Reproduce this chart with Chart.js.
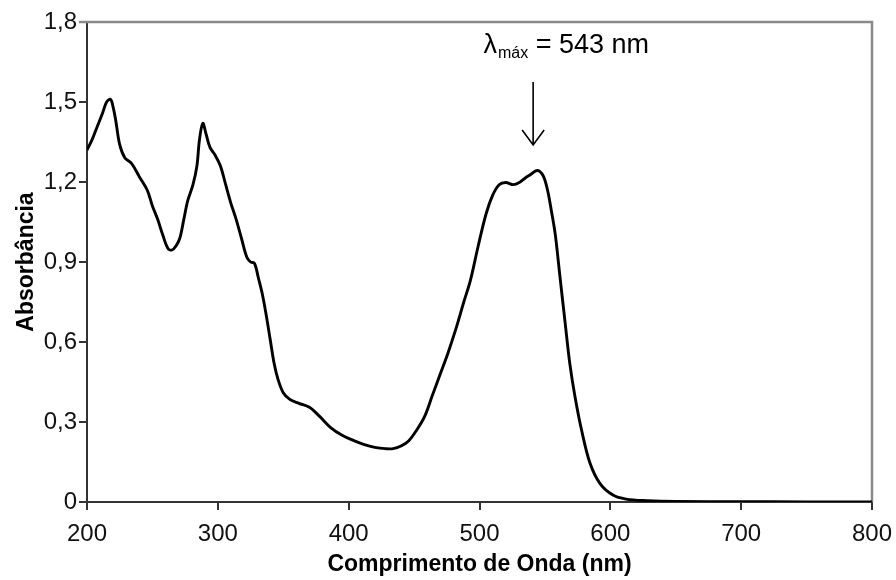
<!DOCTYPE html>
<html>
<head>
<meta charset="utf-8">
<script src="https://cdn.jsdelivr.net/npm/chart.js@4"></script>
<style>
  html, body { margin: 0; padding: 0; background: #fff; }
  canvas { display: block; }
</style>
</head>
<body>
<canvas id="chart" width="896" height="580"></canvas>
<script>
// comprimento de onda (nm)
var wavelength = [
  200, 204, 208, 212, 215, 218, 220, 222, 225, 229, 234, 240, 246, 250, 254, 258, 262, 265, 268, 271,
  274, 277, 281, 284, 286, 288.5, 291, 294, 298, 302, 306, 310, 314, 318, 322, 325, 328, 331, 334, 337,
  340, 343, 346, 350, 355, 362, 370, 378, 386, 395, 404, 412, 420, 428, 434, 440, 446, 452, 458, 464,
  470, 476, 482, 488, 493, 499, 505, 510, 515, 520, 526, 531, 535, 539, 543, 546, 549, 552, 555, 558,
  561.5, 565.5, 569, 573, 578, 584.5, 592, 602, 612, 628, 650, 700, 750, 800
];
// absorbância
var absorbance = [
  1.32, 1.36, 1.41, 1.46, 1.50, 1.51, 1.48, 1.43, 1.34, 1.29, 1.27, 1.22, 1.17, 1.11, 1.06, 1.00, 0.95, 0.945, 0.96, 0.99,
  1.06, 1.13, 1.19, 1.26, 1.36, 1.42, 1.38, 1.33, 1.30, 1.26, 1.19, 1.12, 1.06, 0.99, 0.92, 0.90, 0.895, 0.84, 0.78, 0.70,
  0.61, 0.52, 0.46, 0.41, 0.385, 0.37, 0.355, 0.32, 0.28, 0.25, 0.23, 0.215, 0.205, 0.20, 0.20, 0.21, 0.23, 0.27, 0.32, 0.40,
  0.48, 0.56, 0.65, 0.75, 0.83, 0.96, 1.08, 1.15, 1.19, 1.198, 1.19, 1.20, 1.215, 1.228, 1.242, 1.24, 1.22, 1.17, 1.09, 1.00,
  0.845, 0.67, 0.52, 0.395, 0.27, 0.145, 0.07, 0.026, 0.011, 0.005, 0.002, 0.001, 0.0005, 0
];
var xTicks = [200, 300, 400, 500, 600, 700, 800];
var yTicks = [0, 0.3, 0.6, 0.9, 1.2, 1.5, 1.8];

// anotação do máximo
var lambdaMax = 543;
var noteLabelX = 503, noteLabelY = 1.684;
var arrowX = 541, arrowTop = 1.575, arrowTip = 1.339;

var points = wavelength.map(function(w, i) { return { x: w, y: absorbance[i] }; });

function fmt(v) {
  return v === 0 ? "0" : v.toFixed(1).replace(".", ",");
}

// moldura cinza (topo e direita) + seta e texto do λmáx
var framePlugin = {
  id: "frame",
  beforeDatasetsDraw: function(chart) {
    var a = chart.chartArea, ctx = chart.ctx;
    ctx.save();
    ctx.strokeStyle = "#8a8a8a";
    ctx.lineWidth = 2.5;
    ctx.beginPath();
    ctx.moveTo(a.left - 8, a.top);
    ctx.lineTo(a.right, a.top);
    ctx.lineTo(a.right, a.bottom);
    ctx.stroke();
    ctx.restore();
  },
  afterDraw: function(chart) {
    var ctx = chart.ctx;
    var xs = chart.scales.x, ys = chart.scales.y;
    ctx.save();
    // seta
    var ax = xs.getPixelForValue(arrowX);
    var at = ys.getPixelForValue(arrowTop);
    var ab = ys.getPixelForValue(arrowTip);
    ctx.strokeStyle = "#000";
    ctx.lineWidth = 1.6;
    ctx.beginPath();
    ctx.moveTo(ax, at);
    ctx.lineTo(ax, ab);
    ctx.moveTo(ax - 11, ab - 15);
    ctx.lineTo(ax, ab);
    ctx.lineTo(ax + 11, ab - 15);
    ctx.stroke();
    // texto
    var tx = xs.getPixelForValue(noteLabelX);
    var ty = ys.getPixelForValue(noteLabelY);
    ctx.fillStyle = "#000";
    ctx.textBaseline = "alphabetic";
    ctx.textAlign = "left";
    ctx.font = "27px 'Liberation Sans', Arial, sans-serif";
    ctx.fillText("λ", tx, ty);
    tx += ctx.measureText("λ").width + 1;
    ctx.font = "16px 'Liberation Sans', Arial, sans-serif";
    ctx.fillText("máx", tx, ty + 5);
    tx += ctx.measureText("máx").width;
    ctx.font = "27px 'Liberation Sans', Arial, sans-serif";
    ctx.fillText(" = " + lambdaMax + " nm", tx, ty);
    ctx.restore();
  }
};

var ctx = document.getElementById("chart").getContext("2d");
new Chart(ctx, {
  type: "line",
  data: {
    datasets: [{
      data: points,
      borderColor: "#000",
      borderWidth: 2.9,
      pointRadius: 0,
      tension: 0.35,
      fill: false
    }]
  },
  options: {
    responsive: false,
    animation: false,
    devicePixelRatio: 1,
    layout: { padding: { left: 0, right: 24, top: 22, bottom: 0 } },
    plugins: { legend: { display: false }, tooltip: { enabled: false } },
    scales: {
      x: {
        type: "linear",
        min: 200,
        max: 800,
        afterBuildTicks: function(s) { s.ticks = xTicks.map(function(v) { return { value: v }; }); },
        afterFit: function(s) { s.height = 78; s.paddingLeft = 0; s.paddingRight = 0; },
        border: { color: "#333", width: 2 },
        grid: { drawOnChartArea: false, drawTicks: true, tickLength: 8, color: "#333", lineWidth: 2 },
        ticks: {
          color: "#111",
          padding: 10,
          maxRotation: 0,
          font: { family: "'Liberation Sans', Arial, sans-serif", size: 24 },
          callback: function(v) { return String(v); }
        },
        title: {
          display: true,
          text: "Comprimento de Onda (nm)",
          color: "#000",
          padding: { top: 0, bottom: 2 },
          font: { family: "'Liberation Sans', Arial, sans-serif", size: 23, weight: "bold" }
        }
      },
      y: {
        min: 0,
        max: 1.8,
        afterBuildTicks: function(s) { s.ticks = yTicks.map(function(v) { return { value: v }; }); },
        afterFit: function(s) { s.width = 87; s.paddingTop = 0; s.paddingBottom = 0; },
        border: { color: "#333", width: 2 },
        grid: { drawOnChartArea: false, drawTicks: true, tickLength: 8, color: "#333", lineWidth: 2 },
        ticks: {
          color: "#111",
          padding: 2,
          font: { family: "'Liberation Sans', Arial, sans-serif", size: 24 },
          callback: function(v) { return fmt(v); }
        },
        title: {
          display: true,
          text: "Absorbância",
          color: "#000",
          padding: { top: 13, bottom: 0 },
          font: { family: "'Liberation Sans', Arial, sans-serif", size: 23, weight: "bold" }
        }
      }
    }
  },
  plugins: [framePlugin]
});
</script>
</body>
</html>
